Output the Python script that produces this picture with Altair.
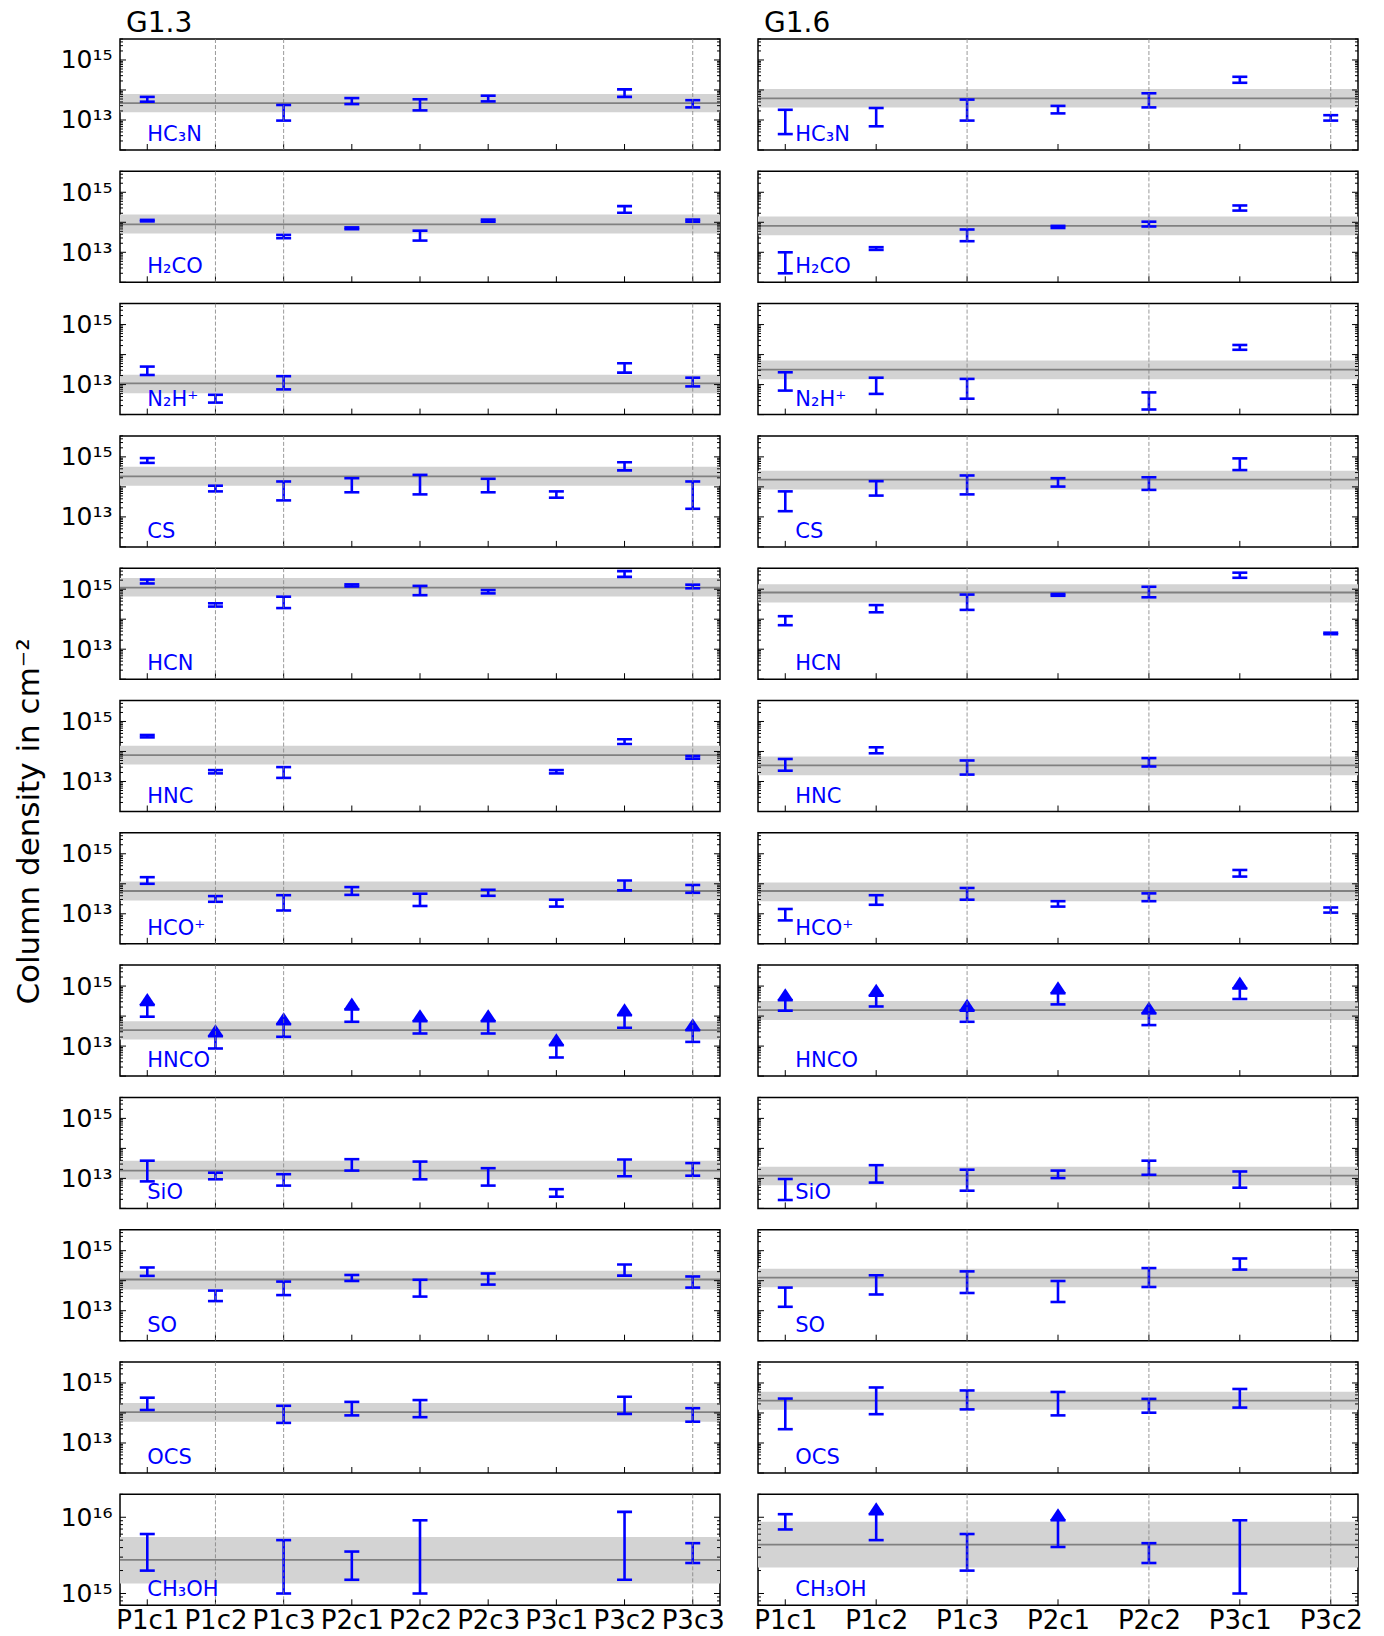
import altair as alt
import pandas as pd

# ---------------- data ----------------
CATS_G13 = ["P1c1", "P1c2", "P1c3", "P2c1", "P2c2", "P2c3", "P3c1", "P3c2", "P3c3"]
CATS_G16 = ["P1c1", "P1c2", "P1c3", "P2c1", "P2c2", "P3c1", "P3c2"]
DASHED_G13 = ["P1c2", "P1c3", "P3c3"]
DASHED_G16 = ["P1c3", "P2c2", "P3c2"]
MOLECULES = ["HC₃N", "H₂CO", "N₂H⁺", "CS", "HCN", "HNC", "HCO⁺", "HNCO", "SiO", "SO", "OCS", "CH₃OH"]
N = None

# log10 of the lower / upper ends of each error bar, G1.3
G13_LO = [
    [13.61, N, 12.98, 13.53, 13.32, 13.62, N, 13.77, 13.42],
    [14.03, N, 13.47, 13.77, 13.39, 14.02, N, 14.32, 14.02],
    [13.32, 12.40, 12.84, N, N, N, N, 13.40, 12.94],
    [14.80, 13.85, 13.55, 13.82, 13.75, 13.82, 13.64, 14.55, 13.27],
    [15.19, 14.42, 14.37, 15.09, 14.80, 14.86, N, 15.41, 15.03],
    [14.47, 13.27, 13.12, N, N, N, 13.27, 14.25, 13.76],
    [14.00, 13.40, 13.11, 13.63, 13.26, 13.60, 13.24, 13.78, 13.70],
    [13.98, 12.92, 13.31, 13.81, 13.42, 13.42, 12.62, 13.61, 13.14],
    [12.90, 12.97, 12.76, 13.26, 12.97, 12.76, 12.39, 13.07, 13.09],
    [14.16, 13.32, 13.52, 13.99, 13.47, 13.87, N, 14.17, 13.77],
    [14.10, N, 13.67, 13.92, 13.86, N, N, 13.97, 13.71],
    [15.30, N, 15.00, 15.18, 15.00, N, N, 15.18, 15.40],
]
G13_HI = [
    [13.77, N, 13.50, 13.73, 13.69, 13.81, N, 14.02, 13.66],
    [14.08, N, 13.58, 13.83, 13.72, 14.09, N, 14.54, 14.09],
    [13.60, 12.66, 13.28, N, N, N, N, 13.71, 13.23],
    [14.96, 14.04, 14.18, 14.29, 14.40, 14.27, 13.85, 14.82, 14.18],
    [15.32, 14.53, 14.75, 15.16, 15.11, 14.97, N, 15.60, 15.15],
    [14.55, 13.38, 13.48, N, N, N, 13.38, 14.41, 13.85],
    [14.22, 13.59, 13.62, 13.89, 13.67, 13.80, 13.47, 14.11, 13.96],
    [14.37, 13.33, 13.73, 14.22, 13.83, 13.83, 13.03, 14.03, 13.53],
    [13.59, 13.19, 13.14, 13.64, 13.56, 13.34, 12.64, 13.63, 13.51],
    [14.44, 13.67, 13.97, 14.19, 14.03, 14.24, N, 14.54, 14.14],
    [14.51, N, 14.24, 14.37, 14.43, N, N, 14.54, 14.16],
    [15.78, N, 15.70, 15.55, 15.96, N, N, 16.07, 15.66],
]
G13_MEAN = [13.56, 13.93, 13.04, 14.35, 15.05, 13.88, 13.76, 13.53, 13.26, 14.04, 14.03, 15.44]
G13_BAND_LO = [13.26, 13.63, 12.71, 14.04, 14.76, 13.57, 13.44, 13.22, 12.96, 13.71, 13.71, 15.13]
G13_BAND_HI = [13.87, 14.26, 13.33, 14.67, 15.37, 14.19, 14.08, 13.83, 13.59, 14.33, 14.33, 15.74]
G13_LIMITS = {"HNCO": CATS_G13}

# G1.6
G16_LO = [
    [12.53, 12.79, 12.98, 13.22, 13.42, 14.24, 12.98],
    [12.30, 13.08, 13.37, 13.81, 13.86, 14.39, N],
    [12.80, 12.69, 12.53, N, 12.17, 14.16, N],
    [13.19, 13.71, 13.75, 14.01, 13.90, 14.56, N],
    [13.80, 14.23, 14.31, 14.78, 14.73, 15.38, 13.50],
    [13.36, 13.94, 13.23, N, 13.50, N, N],
    [12.78, 13.30, 13.47, 13.24, 13.42, 14.24, 13.04],
    [14.18, 14.32, 13.81, 14.39, 13.70, 14.57, N],
    [12.28, 12.86, 12.59, 13.01, 13.12, 12.69, N],
    [13.13, 13.54, 13.59, 13.29, 13.79, 14.37, N],
    [13.46, 13.96, 14.12, 13.92, 14.01, 14.18, N],
    [15.84, 15.70, 15.30, 15.61, 15.40, 15.00, N],
]
G16_HI = [
    [13.34, 13.40, 13.68, 13.47, 13.89, 14.44, 13.16],
    [13.00, 13.17, 13.76, 13.88, 14.02, 14.56, N],
    [13.41, 13.23, 13.19, N, 12.74, 14.32, N],
    [13.85, 14.19, 14.38, 14.29, 14.32, 14.95, N],
    [14.10, 14.47, 14.82, 14.84, 15.08, 15.55, 13.55],
    [13.75, 14.14, 13.70, N, 13.78, N, N],
    [13.16, 13.62, 13.86, 13.42, 13.68, 14.46, 13.21],
    [14.53, 14.68, 14.18, 14.76, 14.09, 14.92, N],
    [12.98, 13.44, 13.29, 13.26, 13.59, 13.23, N],
    [13.77, 14.18, 14.31, 13.99, 14.42, 14.74, N],
    [14.48, 14.85, 14.75, 14.70, 14.47, 14.80, N],
    [16.04, 16.04, 15.78, 15.96, 15.66, 15.96, N],
]
G16_MEAN = [13.72, 13.88, 13.50, 14.24, 14.89, 13.54, 13.76, 14.20, 13.09, 14.10, 14.41, 15.64]
G16_BAND_LO = [13.42, 13.57, 13.18, 13.91, 14.56, 13.21, 13.42, 13.87, 12.77, 13.78, 14.11, 15.34]
G16_BAND_HI = [14.03, 14.19, 13.80, 14.54, 15.16, 13.83, 14.04, 14.50, 13.39, 14.40, 14.71, 15.94]
G16_LIMITS = {"HNCO": ["P1c1", "P1c2", "P1c3", "P2c1", "P2c2", "P3c1"], "CH₃OH": ["P1c2", "P2c1"]}

Y_LIM = [1e12, 5e15]
Y_LIM_CH3OH = [7e14, 2e16]
YTICK_LABELS = {1e13: "10¹³", 1e15: "10¹⁵"}
YTICK_LABELS_CH3OH = {1e15: "10¹⁵", 1e16: "10¹⁶"}
TITLES = ["G1.3", "G1.6"]
Y_TITLE = "Column density in cm⁻²"

# ---------------- style ----------------
FONT = "DejaVu Sans"
BLUE = "#0000ff"
H = 111
W = 600
TRI = "M-1,0L1,0L0,-1.5Z"
MAJ, MIN = 6, 3


def label_expr(labels):
    parts = [f"(datum.value > {v * 0.999} && datum.value < {v * 1.001}) ? '{t}'" for v, t in labels.items()]
    return " : ".join(parts) + " : ''"


def decade_ticks(lim):
    lo, hi = lim
    major, minor = [], []
    for e in range(10, 18):
        d = 10.0 ** e
        if lo <= d <= hi:
            major.append(d)
        for k in range(2, 10):
            v = k * d
            if lo <= v <= hi:
                minor.append(v)
    return major, minor


def panel(mol, cats, dashed, lo, hi, limits, mean, blo, bhi, pad, left, bottom, title, ytitle):
    lim = Y_LIM_CH3OH if mol == "CH₃OH" else Y_LIM
    labs = YTICK_LABELS_CH3OH if mol == "CH₃OH" else YTICK_LABELS
    major, minor = decade_ticks(lim)
    n = len(cats)
    ys = alt.Scale(type="log", domain=lim, nice=False)
    xs = alt.Scale(domain=[-pad, n - 1 + pad], nice=False, zero=False)
    rows = [dict(idx=i, lo=10.0 ** a, hi=10.0 ** b, lim=(c in limits))
            for i, (c, a, b) in enumerate(zip(cats, lo, hi)) if a is not None]
    pts = pd.DataFrame(rows)

    if left:
        yax = alt.Axis(orient="left", values=list(labs.keys()), ticks=False, domain=False, grid=False,
                       title=None, labelExpr=label_expr(labs), labelFontSize=25, labelFont=FONT,
                       labelColor="black", labelPadding=8)
    else:
        yax = None
    if bottom:
        names = "[" + ",".join(f"'{c}'" for c in cats) + "]"
        xax = alt.Axis(orient="bottom", values=list(range(n)), ticks=False, domain=False, grid=False,
                       title=None, labelAngle=0, labelExpr=f"{names}[datum.value]",
                       labelFontSize=26, labelFont=FONT, labelColor="black", labelPadding=2,
                       labelFlush=False, labelOverlap=False)
    else:
        xax = None

    def X(f):
        return alt.X(f, scale=xs, axis=xax)

    def Y(f):
        return alt.Y(f, scale=ys, axis=yax)

    layers = []
    layers.append(alt.Chart(pd.DataFrame({"b0": [10.0 ** blo], "b1": [10.0 ** bhi]})).mark_rect(
        color="#d3d3d3").encode(x=alt.value(0), x2=alt.value(W), y=Y("b0:Q"), y2="b1:Q"))
    layers.append(alt.Chart(pd.DataFrame({"m": [10.0 ** mean]})).mark_rule(
        color="#808080", strokeWidth=1.8).encode(x=alt.value(0), x2=alt.value(W), y=Y("m:Q")))

    # y ticks on both sides (inward)
    for vals, ln in ((major, MAJ), (minor, MIN)):
        tdf = pd.DataFrame({"v": vals})
        for x0, x1 in ((0, ln), (W - ln, W)):
            layers.append(alt.Chart(tdf).mark_rule(color="black", strokeWidth=1).encode(
                x=alt.value(x0), x2=alt.value(x1), y=Y("v:Q")))
    # x ticks (inward, bottom)
    layers.append(alt.Chart(pd.DataFrame({"idx": list(range(n))})).mark_rule(
        color="black", strokeWidth=1).encode(x=X("idx:Q"), y=alt.value(H - MAJ), y2=alt.value(H)))

    layers.append(alt.Chart(pts).mark_rule(color=BLUE, strokeWidth=2.6).encode(
        x=X("idx:Q"), y=Y("lo:Q"), y2="hi:Q"))
    for fld in ("lo", "hi"):
        layers.append(alt.Chart(pts).mark_tick(color=BLUE, thickness=2.6, size=15, orient="horizontal",
                                               opacity=1).encode(x=X("idx:Q"), y=Y(f"{fld}:Q")))
    if limits:
        layers.append(alt.Chart(pts[pts["lim"]]).mark_point(
            shape=TRI, filled=True, size=256, color=BLUE, opacity=1, strokeWidth=0).encode(
            x=X("idx:Q"), y=Y("hi:Q")))
    layers.append(alt.Chart(pd.DataFrame({"idx": [cats.index(c) for c in dashed]})).mark_rule(
        color="#808080", strokeWidth=0.8, strokeDash=[4, 2]).encode(
        x=X("idx:Q"), y=alt.value(0), y2=alt.value(H)))
    layers.append(alt.Chart(pd.DataFrame({"idx": [0], "t": [mol]})).mark_text(
        align="left", baseline="alphabetic", color=BLUE, font=FONT, fontSize=21,
        dx=0 if left else 10).encode(x=X("idx:Q"), y=alt.value(H - 9), text="t:N"))
    if title:
        layers.append(alt.Chart(pd.DataFrame({"t": [title]})).mark_text(
            align="left", baseline="alphabetic", color="black", font=FONT, fontSize=28).encode(
            x=alt.value(6), y=alt.value(-7), text="t:N"))
    if ytitle:
        layers.append(alt.Chart(pd.DataFrame({"t": [ytitle]})).mark_text(
            align="center", baseline="middle", color="black", font=FONT, fontSize=31, angle=270).encode(
            x=alt.value(-90), y=alt.value(H + 10), text="t:N"))
    return alt.layer(*layers).properties(width=W, height=H)


panels = []
last = len(MOLECULES) - 1
for i, mol in enumerate(MOLECULES):
    panels.append(panel(mol, CATS_G13, DASHED_G13, G13_LO[i], G13_HI[i], G13_LIMITS.get(mol, []),
                        G13_MEAN[i], G13_BAND_LO[i], G13_BAND_HI[i], 0.4, True, i == last,
                        TITLES[0] if i == 0 else None, Y_TITLE if i == 5 else None))
    panels.append(panel(mol, CATS_G16, DASHED_G16, G16_LO[i], G16_HI[i], G16_LIMITS.get(mol, []),
                        G16_MEAN[i], G16_BAND_LO[i], G16_BAND_HI[i], 0.3, False, i == last,
                        TITLES[1] if i == 0 else None, None))

chart = alt.concat(*panels, columns=2, spacing={"row": 21.3, "column": 38}, bounds="flush").properties(
    padding={"left": 5, "top": 1, "right": 5, "bottom": 0},
).configure_view(stroke="black", strokeWidth=1.5)

chart.save("out.html", embed_options={"renderer": "svg", "actions": False})
